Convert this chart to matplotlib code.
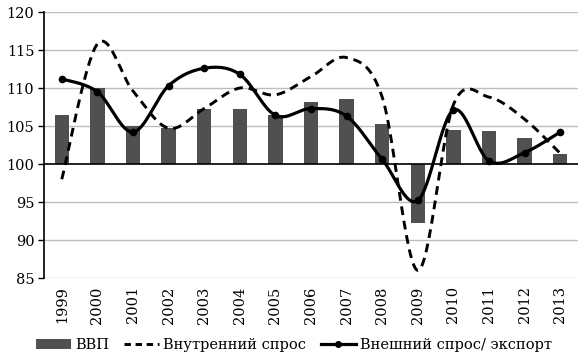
import numpy as np
import matplotlib
matplotlib.use("Agg")
import matplotlib.pyplot as plt
from matplotlib.lines import Line2D
from matplotlib.patches import Patch

years = ["1999", "2000", "2001", "2002", "2003", "2004", "2005", "2006",
         "2007", "2008", "2009", "2010", "2011", "2012", "2013"]
gdp = [106.4, 110.0, 105.0, 104.7, 107.3, 107.2, 106.4, 108.2,
       108.5, 105.2, 92.2, 104.5, 104.3, 103.4, 101.3]
domestic = [98.0, 115.8, 109.6, 104.7, 107.3, 110.0, 109.1, 111.5,
            114.0, 108.8, 86.0, 107.8, 108.8, 105.9, 101.4]
external = [111.2, 109.5, 104.2, 110.3, 112.6, 111.8, 106.4, 107.3,
            106.3, 100.6, 95.2, 107.1, 100.4, 101.5, 104.2]

labels = ["ВВП", "Внутренний спрос", "Внешний спрос/ экспорт"]

plt.rcParams['font.family'] = ['DejaVu Serif']
FS = 10.5


def smooth(x, y, n=30):
    x = np.asarray(x, float)
    y = np.asarray(y, float)
    P = np.column_stack([x, y])
    out = []
    N = len(P)
    for i in range(N - 1):
        p0 = P[i - 1] if i > 0 else P[i]
        p1 = P[i]
        p2 = P[i + 1]
        p3 = P[i + 2] if i + 2 < N else P[i + 1]
        c1 = p1 + (p2 - p0) / 6.0
        c2 = p2 - (p3 - p1) / 6.0
        t = np.linspace(0, 1, n)[:, None]
        seg = ((1 - t) ** 3) * p1 + 3 * ((1 - t) ** 2) * t * c1 + 3 * (1 - t) * t ** 2 * c2 + t ** 3 * p2
        if i > 0:
            seg = seg[1:]
        out.append(seg)
    out = np.vstack(out)
    return out[:, 0], out[:, 1]


fig = plt.figure(figsize=(5.88, 3.6), dpi=100)
ax = fig.add_axes([44 / 588, 1 - 278 / 360, (578 - 44) / 588, (278 - 12) / 360])

xs = np.arange(len(years))
base = 100
ax.bar(xs, np.array(gdp) - base, bottom=base, width=0.4, color='#505050',
       zorder=2)

dx, dy = smooth(xs, domestic)
ax.plot(dx, dy, color='black', lw=2.1, dashes=(3.0, 2.0), zorder=3)

ex, ey = smooth(xs, external)
ax.plot(ex, ey, color='black', lw=2.3, zorder=4)
ax.plot(xs, external, 'o', color='black', ms=4.5, zorder=5)

ax.set_ylim(85, 120)
ax.set_xlim(-0.5, len(years) - 0.5)
ax.set_yticks(np.arange(85, 121, 5))
ax.set_yticklabels([str(v) for v in range(85, 121, 5)], fontsize=FS)
ax.set_xticks(xs)
ax.set_xticklabels(years, rotation=90, fontsize=FS)
ax.tick_params(axis='x', length=0, pad=6)
ax.tick_params(axis='y', length=4, width=1, direction='out', pad=3)

for v in range(85, 121, 5):
    if v != 100:
        ax.axhline(v, color='#bdbdbd', lw=1, zorder=1)
ax.axhline(100, color='black', lw=1.2, zorder=2.5)

for s in ['top', 'right', 'bottom']:
    ax.spines[s].set_visible(False)
ax.spines['left'].set_linewidth(1.2)

handles = [
    Patch(facecolor='#505050', edgecolor='none'),
    Line2D([], [], color='black', lw=2.1, dashes=(2.2, 1.6)),
    Line2D([], [], color='black', lw=2.3, marker='o', ms=4),
]
fig.legend(handles, labels, loc='center', bbox_to_anchor=(0.5, 1 - 345 / 360),
           ncol=3, frameon=False, fontsize=FS, handlelength=2.4,
           handletextpad=0.3, columnspacing=1.0, borderaxespad=0)

fig.savefig('out.png', dpi=100)
